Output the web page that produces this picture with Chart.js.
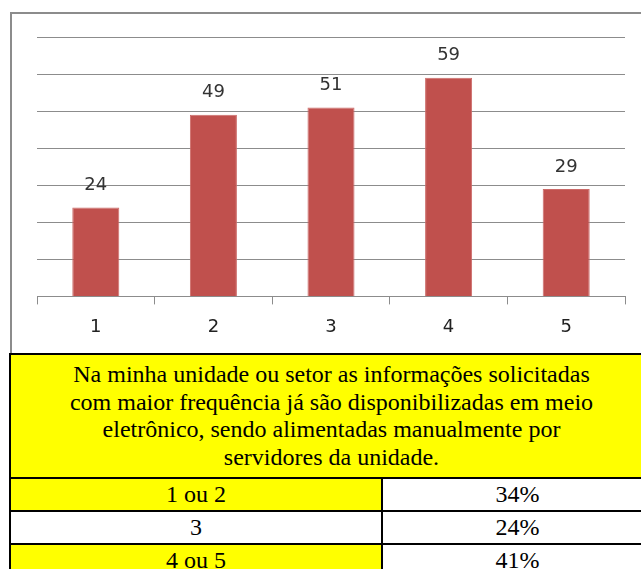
<!DOCTYPE html>
<html>
<head>
<meta charset="utf-8">
<script src="https://cdn.jsdelivr.net/npm/chart.js@4/dist/chart.umd.min.js"></script>
<style>
  html, body { margin: 0; padding: 0; background: #fff; }
  body { width: 641px; height: 569px; overflow: hidden; position: relative; }
  #frame {
    position: absolute; left: 10px; top: 12px; width: 640px; height: 340px;
    border-left: 2px solid #8c8c8c; border-top: 2px solid #8c8c8c;
  }
  #frame canvas { position: absolute; left: 0; top: 0; }
  #grid {
    position: absolute; left: 9px; top: 353px; width: 641px;
    display: grid; grid-template-columns: 370px 1fr; gap: 2px; padding: 2px;
    background: #000; color: #000;
    font-family: "Liberation Serif", serif !important; font-size: 24px !important;
  }
  #grid div {
    background: #fff; text-align: center;
    font-family: "Liberation Serif", serif !important; font-size: 24px !important;
  }
  #grid .head { grid-column: 1 / 3; background: #ffff00; line-height: 27.5px; height: 122px; box-sizing: border-box; padding-top: 6px; }
  #grid .cell { height: 31px; line-height: 31px; }
  #grid .yel { background: #ffff00; }
</style>
</head>
<body>
<div id="frame">
  <canvas id="barChart" width="629" height="338"></canvas>
</div>
<div id="grid"></div>
<script>
var categories = ["1", "2", "3", "4", "5"];
var values = [24, 49, 51, 59, 29];

var headerLines = [
    "Na minha unidade ou setor as informações solicitadas",
    "com maior frequência já são disponibilizadas em meio",
    "eletrônico, sendo alimentadas manualmente por",
    "servidores da unidade."
];
var groupLabels = ["1 ou 2", "3", "4 ou 5"];
var groupShares = ["34%", "24%", "41%"];
var groupYellow = [true, false, true];

// value labels above the bars
var valueLabels = {
    id: "valueLabels",
    afterDatasetsDraw: function(chart) {
        var ctx = chart.ctx;
        var meta = chart.getDatasetMeta(0);
        ctx.save();
        ctx.font = "18px 'DejaVu Sans'";
        ctx.fillStyle = "#333";
        ctx.textAlign = "center";
        ctx.textBaseline = "middle";
        meta.data.forEach(function(bar, i) {
            ctx.fillText(String(chart.data.datasets[0].data[i]), bar.x, bar.y - 22);
        });
        ctx.restore();
    }
};

var ctx = document.getElementById("barChart").getContext("2d");
var barChart = new Chart(ctx, {
    type: "bar",
    data: {
        labels: categories,
        datasets: [{
            data: values,
            backgroundColor: "#c0504d",
            borderColor: "#cc6b69",
            borderWidth: 1,
            barPercentage: 0.4,
            categoryPercentage: 1
        }]
    },
    options: {
        responsive: false,
        animation: false,
        layout: { padding: { left: 25, right: 16, top: 23, bottom: 2 } },
        plugins: { legend: { display: false }, tooltip: { enabled: false } },
        scales: {
            x: {
                grid: { drawOnChartArea: false, drawTicks: true, tickLength: 8, color: "#8c8c8c" },
                border: { color: "#8c8c8c" },
                ticks: { padding: 12, color: "#222", font: { family: "DejaVu Sans", size: 18 } }
            },
            y: {
                min: 0,
                max: 70,
                ticks: { stepSize: 10, display: false },
                grid: { drawTicks: false, color: "#8c8c8c" },
                border: { display: false }
            }
        }
    },
    plugins: [valueLabels]
});

// summary box under the chart, built after the chart and styled inline
var box = document.getElementById("grid");
function addCell(cls, text) {
    var d = document.createElement("div");
    d.className = cls;
    d.innerHTML = text;
    d.style.setProperty("font-family", "'Liberation Serif', serif", "important");
    d.style.setProperty("font-size", "24px", "important");
    box.appendChild(d);
}
addCell("head", headerLines.join("<br>"));
for (var i = 0; i < groupLabels.length; i++) {
    addCell("cell" + (groupYellow[i] ? " yel" : ""), groupLabels[i]);
    addCell("cell", groupShares[i]);
}
</script>
</body>
</html>
